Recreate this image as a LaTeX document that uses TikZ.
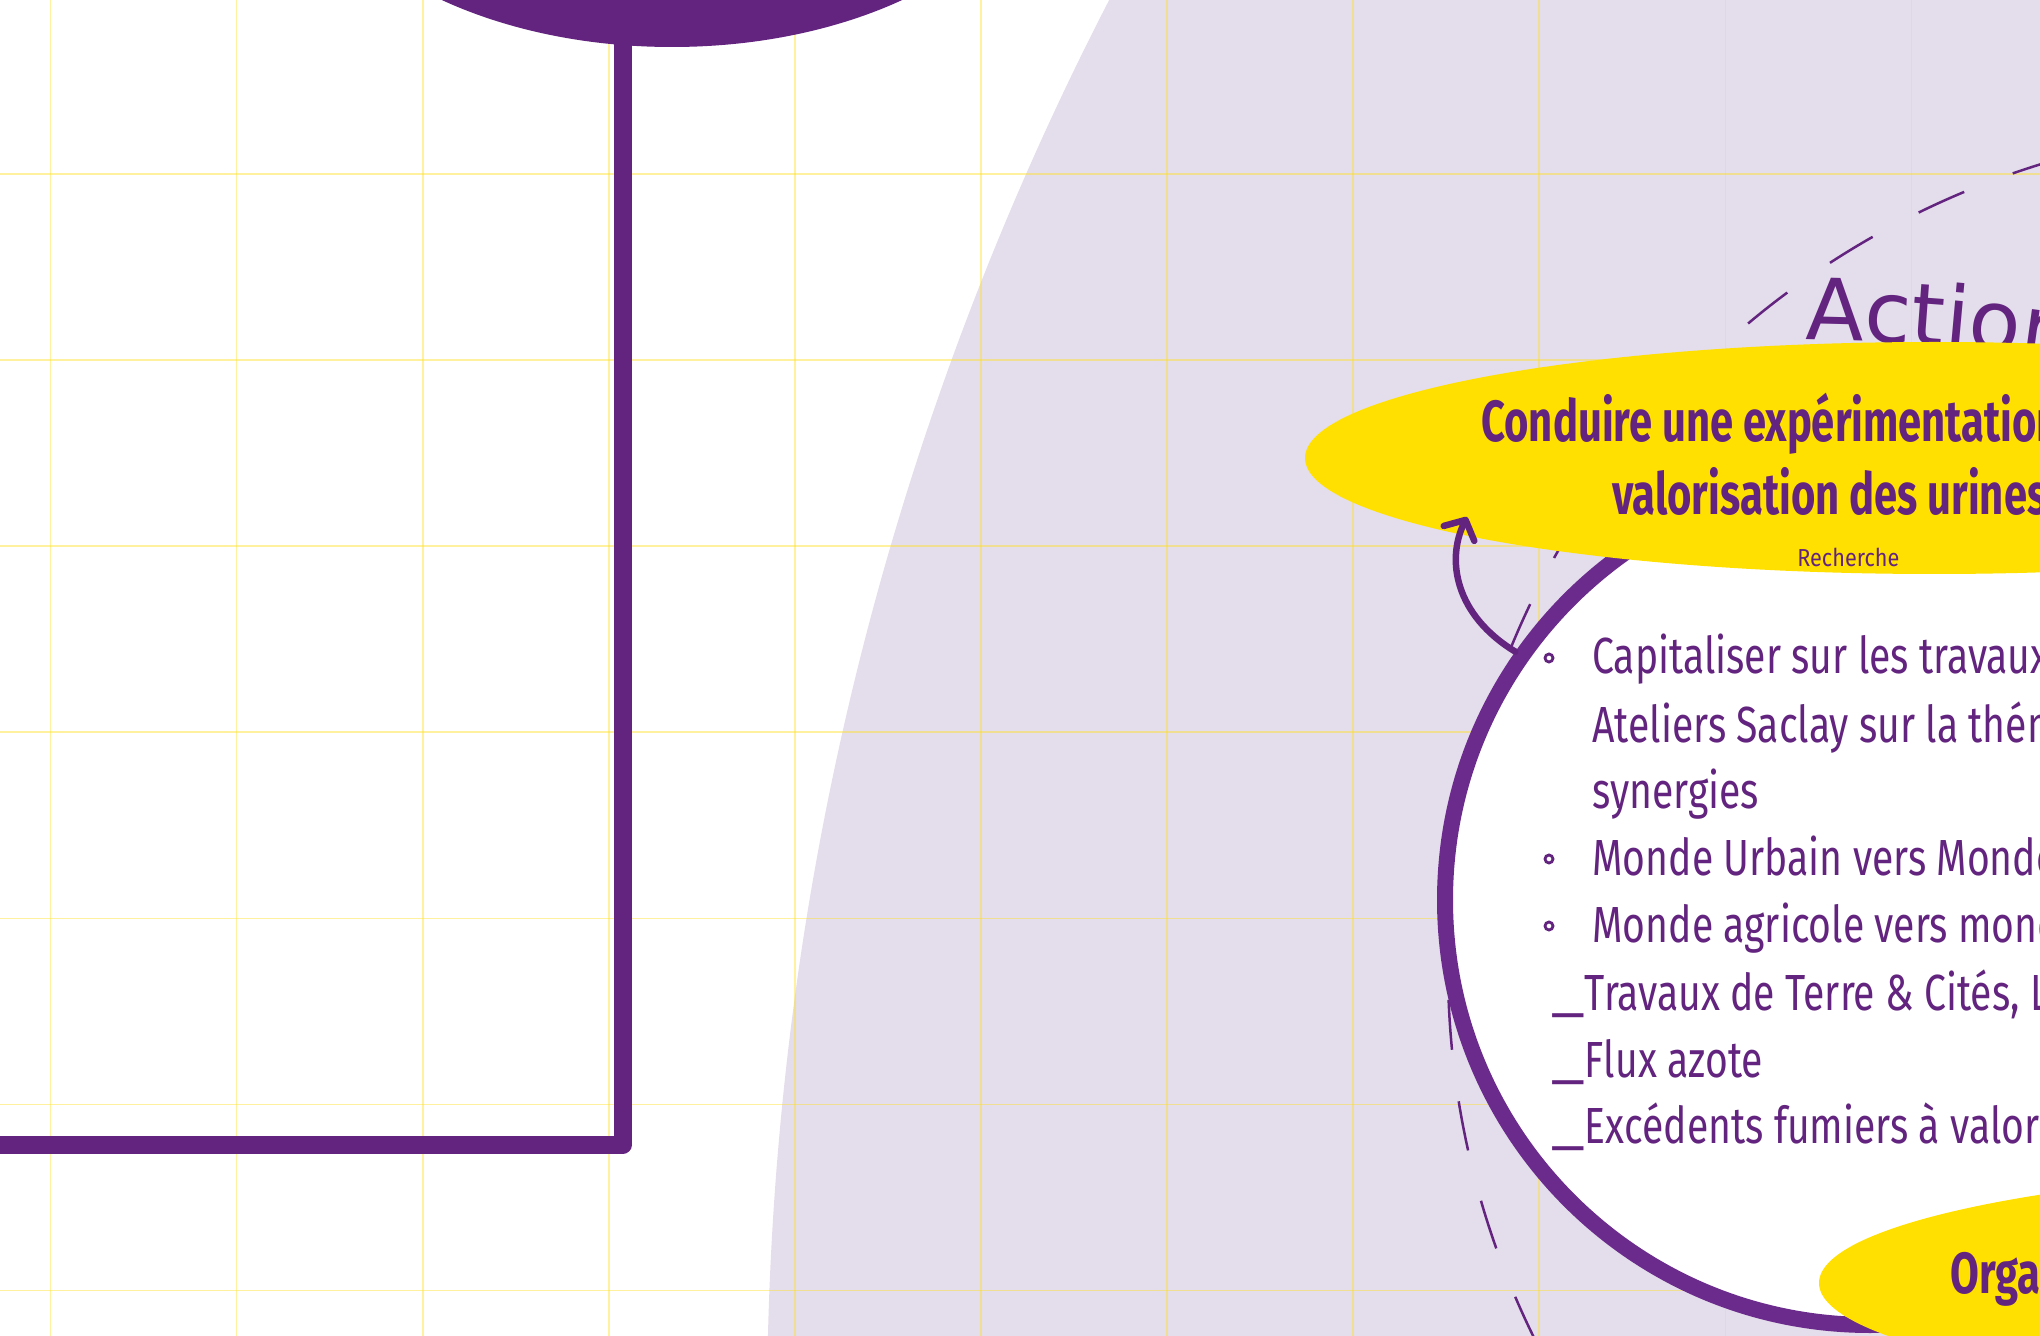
\documentclass[tikz,border=0pt]{standalone}
\usepackage{fontspec}
\usepackage{graphicx}
\usetikzlibrary{arrows.meta,decorations.text,shapes.geometric}
\newfontfamily\bodyfont[FakeStretch=0.77]{Fira Sans}
\newfontfamily\smallfont[FakeStretch=0.88]{Fira Sans}
\newfontfamily\titlefont[FakeStretch=0.72]{Fira Sans}
\newfontfamily\actfont{DejaVu Sans}
\definecolor{purp}{HTML}{63247F}
\definecolor{purpB}{HTML}{6B2B8C}
\definecolor{lav}{HTML}{E4DDEB}
\definecolor{yel}{HTML}{FFE000}
\definecolor{gridc}{HTML}{FFE02A}
\begin{document}
\begin{tikzpicture}[x=0.5pt,y=-0.5pt,
  body/.style={anchor=base west, inner sep=0, text=purp, font=\bodyfont\fontsize{25.4pt}{30pt}\selectfont},
  small/.style={anchor=base west, inner sep=0, text=purp, font=\smallfont\fontsize{12.3pt}{15pt}\selectfont},
  titletxt/.style={anchor=base west, inner sep=0, text=purp, font=\titlefont\bfseries\fontsize{29pt}{34pt}\selectfont},
  bul/.style={circle, draw=purp, line width=1.4pt, minimum size=4pt, inner sep=0},
  yell/.style={ellipse, fill=yel, minimum width=629pt, minimum height=116pt, inner sep=0},
  gridline/.style={gridc, opacity=0.45, line width=0.85pt},
  dashc/.style={purp, line width=1.25pt}
]
\useasboundingbox (0,0) rectangle (2040,1336);
\clip (0,0) rectangle (2040,1336);
\fill[white] (0,0) rectangle (2040,1336);
% lavender zone
\fill[lav] (3850.5,1413.2) circle[radius=3083.5];
% grid
\foreach \i in {0,...,10} \draw[gridline] ({50.5+186.1*\i},0) -- ({50.5+186.1*\i},1336);
\foreach \j in {0,...,6} \draw[gridline] (0,{174+186.1*\j}) -- (2040,{174+186.1*\j});
% purple connector and top ellipse
\coordinate (lt) at (622.5,0);
\coordinate (lb) at (-20,1145);
\draw[purp, line width=9pt, line join=round] (lt) |- (lb);
\node[ellipse, fill=purp, minimum width=380pt, minimum height=230pt, inner sep=0] (pe) at (672,-183) {};
% dashed circle (two arcs from the same start point)
\draw[dashc, dash pattern=on 25pt off 26pt] (2288,967) ++(-130:840) arc[start angle=-130, end angle=-20, radius=840];
\draw[dashc, dash pattern=on 25pt off 26pt, dash phase=25pt] (2288,967) ++(-130:840) arc[start angle=-130, end angle=-250, radius=840];
% title
\path[decorate, decoration={text along path, text color=purp,
  text={|\actfont\fontsize{42.5pt}{51pt}\selectfont|Action}}]
  (1805,340) .. controls (1905,341) and (2005,350) .. (2105,367);
% white circle
\node[circle, draw=purpB, fill=white, line width=8pt, minimum size=425pt, inner sep=0] (wc) at (1870,900) {};
% yellow ellipses
\node[yell] (y1) at (1934,458) {};
\node[yell] (y2) at (2448,1283) {};
% texts
\node[titletxt] (t1) at (1481,442) {Conduire une expérimentation};
\node[titletxt] (t2) at (1612,515) {valorisation des urines};
\node[small] (rech) at (1797,567) {Recherche};
\node[titletxt] (t3) at (1950,1293) {Organ};
\node[bul] (b1) at (1549,658) {};
\node[bul] (b2) at (1549,859) {};
\node[bul] (b3) at (1549,926) {};
\node[body] (l1) at (1592,674) {Capitaliser sur les travaux};
\node[body] (l2) at (1592,742) {Ateliers Saclay sur la thém};
\node[body] (l3) at (1592,808) {synergies};
\node[body] (l4) at (1592,875) {Monde Urbain vers Monde};
\node[body] (l5) at (1592,942) {Monde agricole vers mond};
\node[body] (l6) at (1551,1010) {\scalebox{1.65}[1]{\_}Travaux de Terre \& Cités, L};
\node[body] (l7) at (1551,1077) {\scalebox{1.65}[1]{\_}Flux azote};
\node[body] (l8) at (1551,1143) {\scalebox{1.65}[1]{\_}Excédents fumiers à valor};
% arrow
\coordinate (tip) at (1467,517);
\draw[purp, line width=3.25pt, line cap=round, -{Straight Barb[length=7.5pt,width=17pt,round]}]
  (wc.145) .. controls (1455,615) and (1446,560) .. (tip);
\end{tikzpicture}
\end{document}
